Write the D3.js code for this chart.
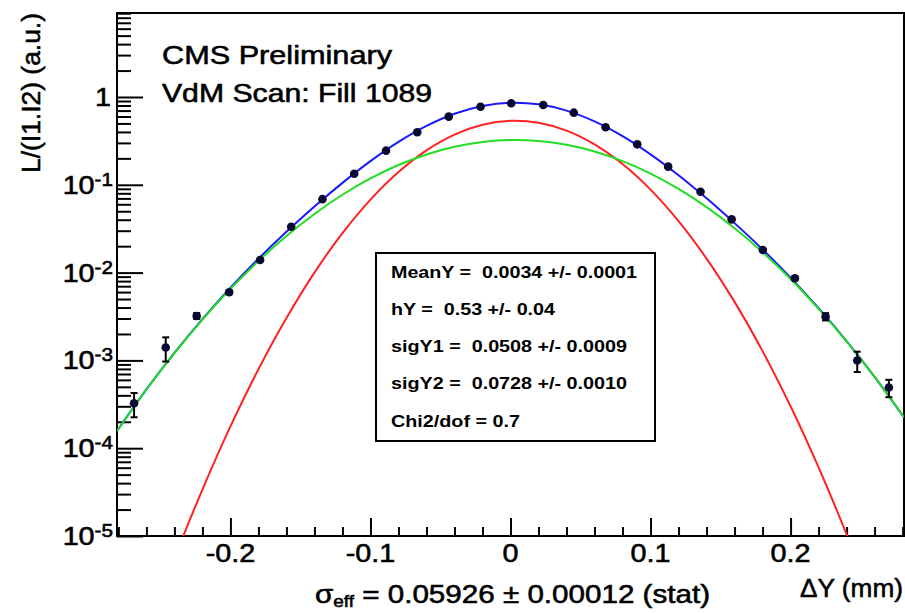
<!DOCTYPE html>
<html><head><meta charset="utf-8">
<script src="https://cdn.jsdelivr.net/npm/d3@7"></script>
<style>
html,body{margin:0;padding:0;background:#fff;}
svg{display:block;}
text{font-family:"Liberation Sans", Arial, Helvetica, sans-serif; fill:#000; white-space:pre; stroke:#000; stroke-width:0.55px;}
text.stats{stroke:none;}
</style></head><body>
<svg id="chart" width="905" height="613"></svg>
<script>
// ---- data ----
const scanX = [-0.2688, -0.2462, -0.2241, -0.2009, -0.1788, -0.1566, -0.1343, -0.1116, -0.0889, -0.0666, -0.0441, -0.0214, 0.0005, 0.0234, 0.0452, 0.0679, 0.0905, 0.1126, 0.1357, 0.1579, 0.1802, 0.2031, 0.2250, 0.2476, 0.2702];
const lumi = [3.25e-4, 1.40e-3, 3.21e-3, 5.97e-3, 1.393e-2, 3.33e-2, 6.86e-2, 0.1337, 0.2447, 0.397, 0.597, 0.775, 0.848, 0.811, 0.663, 0.452, 0.289, 0.161, 0.0834, 0.0404, 0.0181, 8.61e-3, 3.15e-3, 9.97e-4, 4.91e-4];
const lumiErr = [1.0e-4, 4.3e-4, 2.5e-4, 3e-4, 4e-4, 6e-4, 9e-4, 1.3e-3, 2e-3, 2.5e-3, 3e-3, 3.5e-3, 3.5e-3, 3.5e-3, 3e-3, 2.5e-3, 2e-3, 1.5e-3, 1e-3, 7e-4, 5e-4, 4e-4, 3e-4, 2.6e-4, 1.1e-4];

const curveX = [-0.281, -0.26, -0.24, -0.22, -0.20, -0.18, -0.16, -0.14, -0.12, -0.10, -0.08, -0.06, -0.04, -0.02, 0, 0.02, 0.04, 0.06, 0.08, 0.10, 0.12, 0.14, 0.16, 0.18, 0.20, 0.22, 0.24, 0.26, 0.281];
const fitTotal = [1.57e-4, 4.67e-4, 1.216e-3, 2.95e-3, 6.72e-3, 1.436e-2, 2.913e-2, 5.656e-2, 0.1051, 0.1859, 0.3076, 0.4681, 0.6441, 0.7906, 0.8594, 0.8247, 0.6997, 0.5281, 0.3586, 0.2224, 0.1284, 0.0701, 0.0366, 0.01838, 8.75e-3, 3.93e-3, 1.66e-3, 6.50e-4, 2.25e-4];
const fitNarrow = [8.4e-8, 7.8e-7, 5.56e-6, 3.38e-5, 1.772e-4, 7.93e-4, 3.04e-3, 1.000e-2, 2.809e-2, 0.0677, 0.1395, 0.2464, 0.3728, 0.4829, 0.5358, 0.5090, 0.4142, 0.2886, 0.1723, 0.0881, 0.03855, 0.01444, 4.64e-3, 1.276e-3, 3.00e-4, 6.04e-5, 1.045e-5, 1.55e-6, 1.76e-7];
const fitWide = [1.57e-4, 4.66e-4, 1.21e-3, 2.92e-3, 6.54e-3, 1.357e-2, 2.609e-2, 4.656e-2, 0.0770, 0.1182, 0.1681, 0.2217, 0.2713, 0.3077, 0.3236, 0.3157, 0.2855, 0.2395, 0.1863, 0.1343, 0.0898, 0.0557, 0.0320, 0.0171, 8.45e-3, 3.87e-3, 1.65e-3, 6.50e-4, 2.25e-4];

const xMajorTicks = [-0.2, -0.1, 0, 0.1, 0.2];
const xTickLabels = ["-0.2", "-0.1", "0", "0.1", "0.2"];
const xMinorTicks = [-0.28,-0.26,-0.24,-0.22,-0.18,-0.16,-0.14,-0.12,-0.08,-0.06,-0.04,-0.02,0.02,0.04,0.06,0.08,0.12,0.14,0.16,0.18,0.22,0.24,0.26,0.28];
const yMajorTicks = [1e-5, 1e-4, 1e-3, 1e-2, 1e-1, 1];
const yTickExponents = ["-5", "-4", "-3", "-2", "-1", ""];
const statsLines = ["MeanY =  0.0034 +/- 0.0001", "hY =  0.53 +/- 0.04", "sigY1 =  0.0508 +/- 0.0009", "sigY2 =  0.0728 +/- 0.0010", "Chi2/dof = 0.7"];
const statsWidths = [246, 164, 236, 236, 129];
const titleLines = ["CMS Preliminary", "VdM Scan: Fill 1089"];
const yTitle = "L/(I1.I2) (a.u.)";
const xTitle = "\u0394Y (mm)";

// ---- layout ----
const L = 117, T = 13, R = 904, B = 536;
const svg = d3.select("#chart");
const x = d3.scaleLinear().domain([-0.281, 0.281]).range([L, R]);
const y = d3.scaleLog().domain([1e-5, 9.05]).range([B, T]);

svg.append("defs").append("clipPath").attr("id", "plotclip")
  .append("rect").attr("x", L).attr("y", T).attr("width", R - L).attr("height", B - T);

const yMinor = [];
[1e-5, 1e-4, 1e-3, 1e-2, 1e-1, 1].forEach(d => { for (let k = 2; k <= 9; k++) { const v = d * k; if (v <= 9.05) yMinor.push(v); } });

const SX = 1.15;
function txt(parent, str, px, py, opt) {
  opt = opt || {};
  return parent.append("text")
    .attr("transform", `translate(${px},${py}) scale(${opt.sx || SX},1)`)
    .attr("font-size", opt.size || 25)
    .attr("text-anchor", opt.anchor || "start")
    .text(str);
}

// axes (ticks inward)
svg.append("g").attr("transform", `translate(0,${B})`)
  .call(d3.axisBottom(x).tickValues(xMajorTicks).tickSize(-18).tickFormat(""));
svg.append("g").attr("transform", `translate(0,${B})`)
  .call(d3.axisBottom(x).tickValues(xMinorTicks).tickSize(-9).tickFormat(""));
svg.append("g").attr("transform", `translate(${L},0)`)
  .call(d3.axisLeft(y).tickValues(yMajorTicks).tickSize(-26).tickFormat(""));
svg.append("g").attr("transform", `translate(${L},0)`)
  .call(d3.axisLeft(y).tickValues(yMinor).tickSize(-14).tickFormat(""));
svg.selectAll(".domain").remove();
svg.selectAll(".tick line").attr("stroke", "#000").attr("stroke-width", 2);

// frame
svg.append("rect").attr("x", L).attr("y", T).attr("width", R - L).attr("height", B - T)
  .attr("fill", "none").attr("stroke", "#000").attr("stroke-width", 2);

// x tick labels
xMajorTicks.forEach((v, i) => txt(svg, xTickLabels[i], x(v), 562, { anchor: "middle" }));
// y tick labels
yMajorTicks.forEach((v, i) => {
  const py = y(v) + 9;
  if (yTickExponents[i] === "") {
    txt(svg, "1", 111, py, { anchor: "end" });
  } else {
    const t = txt(svg, "", 113, py, { anchor: "end" });
    t.append("tspan").text("10");
    t.append("tspan").attr("font-size", 18).attr("dy", -8).text(yTickExponents[i]);
  }
});

// plot content
const plot = svg.append("g").attr("clip-path", "url(#plotclip)");
const line = arr => d3.line().x((d, i) => x(curveX[i])).y(d => y(d)).curve(d3.curveCatmullRom)(arr);
plot.append("path").attr("d", line(fitTotal)).attr("fill", "none").attr("stroke", "#1a1aff").attr("stroke-width", 2);
plot.append("path").attr("d", line(fitNarrow)).attr("fill", "none").attr("stroke", "#ff2222").attr("stroke-width", 2);
plot.append("path").attr("d", line(fitWide)).attr("fill", "none").attr("stroke", "#22dd22").attr("stroke-width", 2);

// error bars + markers
const pts = plot.append("g");
scanX.forEach((xv, i) => {
  const lo = y(lumi[i] - lumiErr[i]), hi = y(lumi[i] + lumiErr[i]), cx = x(xv);
  pts.append("line").attr("x1", cx).attr("x2", cx).attr("y1", lo).attr("y2", hi).attr("stroke", "#000").attr("stroke-width", 2);
  [lo, hi].forEach(yy => pts.append("line").attr("x1", cx - 3.5).attr("x2", cx + 3.5).attr("y1", yy).attr("y2", yy).attr("stroke", "#000").attr("stroke-width", 2));
});
pts.selectAll("circle").data(lumi).join("circle")
  .attr("cx", (d, i) => x(scanX[i])).attr("cy", d => y(d)).attr("r", 4.3).attr("fill", "#0a0a30");

// titles
svg.append("text").attr("x", 162).attr("y", 63.5).attr("font-size", 25)
  .attr("textLength", 230).attr("lengthAdjust", "spacingAndGlyphs").text(titleLines[0]);
svg.append("text").attr("x", 162).attr("y", 102).attr("font-size", 25)
  .attr("textLength", 270).attr("lengthAdjust", "spacingAndGlyphs").text(titleLines[1]);

// y title
svg.append("text").attr("transform", "translate(40,173) rotate(-90)").attr("font-size", 26)
  .attr("textLength", 160).attr("lengthAdjust", "spacingAndGlyphs").text(yTitle);

// stats box
svg.append("rect").attr("x", 376).attr("y", 253).attr("width", 279).attr("height", 188)
  .attr("fill", "#fff").attr("stroke", "#000").attr("stroke-width", 2);
const statsBase = [278, 315, 352, 389, 427];
statsLines.forEach((s, i) => {
  svg.append("text").attr("class", "stats").attr("x", 391).attr("y", statsBase[i]).attr("font-size", 16).attr("font-weight", "bold")
    .attr("textLength", statsWidths[i]).attr("lengthAdjust", "spacingAndGlyphs").text(s);
});

// bottom sigma text
const st = svg.append("text").attr("x", 315).attr("y", 603).attr("font-size", 25)
  .attr("textLength", 395).attr("lengthAdjust", "spacingAndGlyphs");
st.append("tspan").text("\u03c3");
st.append("tspan").attr("font-size", 16).attr("dy", 4).text("eff");
st.append("tspan").attr("dy", -4).text(" = 0.05926 \u00b1 0.00012 (stat)");

// x title
svg.append("text").attr("x", 800).attr("y", 597).attr("font-size", 25)
  .attr("textLength", 103).attr("lengthAdjust", "spacingAndGlyphs").text(xTitle);
</script>
</body></html>
